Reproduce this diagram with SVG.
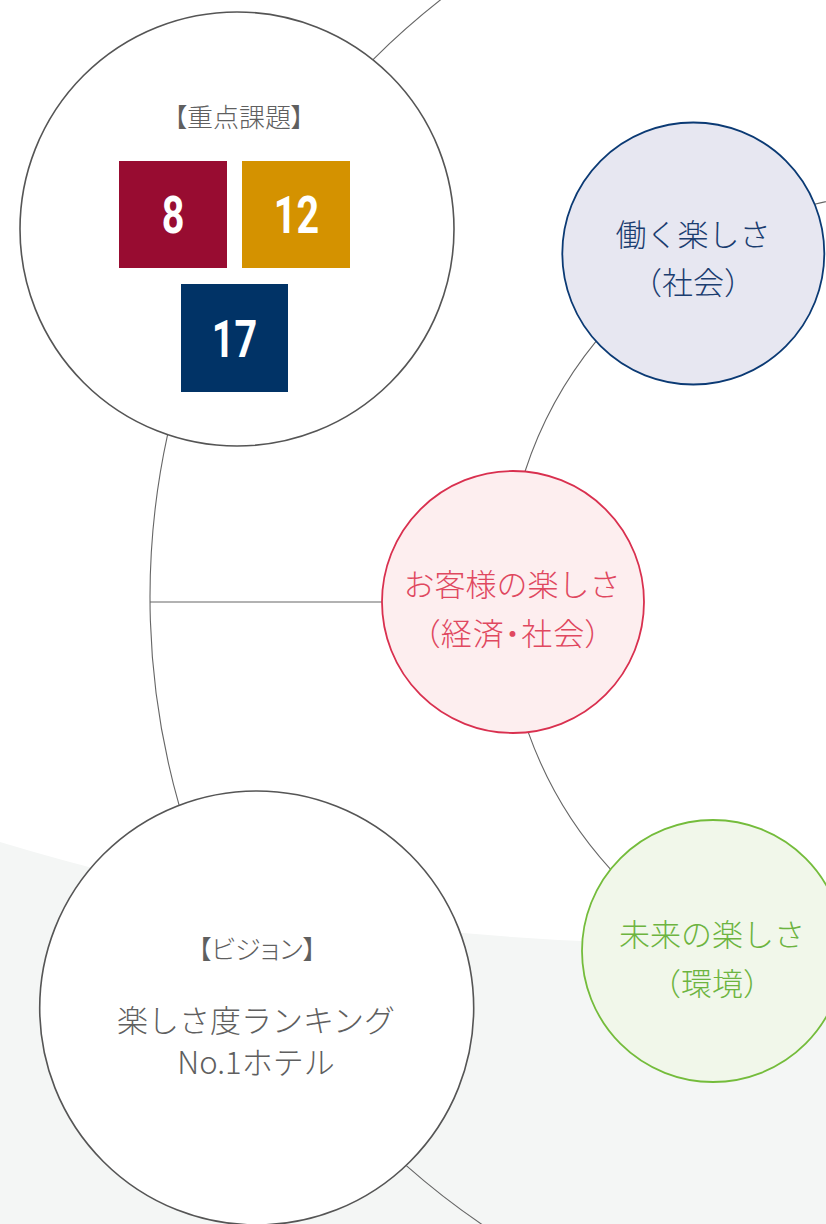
<svg xmlns="http://www.w3.org/2000/svg" width="826" height="1224" viewBox="0 0 826 1224">
<style>
.jp{font-family:"Noto Sans CJK JP","Noto Sans CJK SC",sans-serif;font-weight:300;text-anchor:middle}
.tag{font-feature-settings:"palt"}
.palt{font-feature-settings:"palt";letter-spacing:1px}
.conn{fill:none;stroke:#666;stroke-width:1.1}
.num{font-family:Roboto,"Liberation Sans",sans-serif;font-weight:700;font-size:52px;fill:#fff;text-anchor:middle}
.grey{fill:#5f5f5f}
</style>
<path id="background" d="M0,842 A2345,2345 0 0,0 826,938.5 L826,1224 L0,1224 Z" fill="#f4f6f5"/>
<g id="connectors">
<path class="conn" d="M453.3,-10 A759,759 0 0,0 372.8,59.8"/>
<path class="conn" d="M167.6,434.6 A759,759 0 0,0 179.1,805.2"/>
<path class="conn" d="M406.3,1165.6 A759,759 0 0,0 496.3,1234"/>
<path class="conn" d="M150,602 L382,602"/>
<path class="conn" d="M836,199.7 A404,404 0 0,0 814.6,204.2"/>
<path class="conn" d="M596.2,341.2 A404,404 0 0,0 525,471.5"/>
<path class="conn" d="M528.2,732.1 A404,404 0 0,0 610.6,869.3"/>
</g>
<g id="node-issues">
<circle cx="237" cy="229" r="217" fill="#fff" stroke="#555" stroke-width="1.6"/>
<text class="jp tag grey" x="239" y="127" font-size="26">【重点課題】</text>
<rect x="119" y="161" width="108" height="107" fill="#980c31"/>
<rect x="242" y="161" width="108" height="107" fill="#d49200"/>
<rect x="181" y="284" width="107" height="108" fill="#013366"/>
<text class="num" transform="translate(173,233) scale(0.76,1)">8</text>
<text class="num" transform="translate(296.5,233) scale(0.76,1)">12</text>
<text class="num" transform="translate(234.5,357) scale(0.76,1)">17</text>
</g>
<g id="node-work">
<circle cx="693.3" cy="253.5" r="131" fill="#e7e7f1" stroke="#0b3a74" stroke-width="1.8"/>
<text class="jp" x="693" y="246" font-size="31" fill="#1b3d70">働く楽しさ</text>
<text class="jp" x="693" y="294" font-size="31" fill="#1b3d70">（社会）</text>
</g>
<g id="node-guest">
<circle cx="513" cy="602" r="131" fill="#fdeeef" stroke="#d9304f" stroke-width="1.8"/>
<text class="jp" x="512" y="596" font-size="31" fill="#e0485f">お客様の楽しさ</text>
<text class="jp palt" x="513" y="645" font-size="31" fill="#e0485f">（経済・社会）</text>
</g>
<g id="node-future">
<circle cx="713" cy="951" r="131" fill="#f1f7ea" stroke="#74bc3b" stroke-width="1.8"/>
<text class="jp" x="712" y="946" font-size="31" fill="#6db43f">未来の楽しさ</text>
<text class="jp" x="712" y="995" font-size="31" fill="#6db43f">（環境）</text>
</g>
<g id="node-vision">
<circle cx="256.7" cy="1008" r="217" fill="#fff" stroke="#555" stroke-width="1.6"/>
<text class="jp tag grey" x="257" y="959" font-size="26">【ビジョン】</text>
<text class="jp grey" x="256" y="1032" font-size="31">楽しさ度ランキング</text>
<text class="jp grey" x="256" y="1074" font-size="31">No.1ホテル</text>
</g>
</svg>
